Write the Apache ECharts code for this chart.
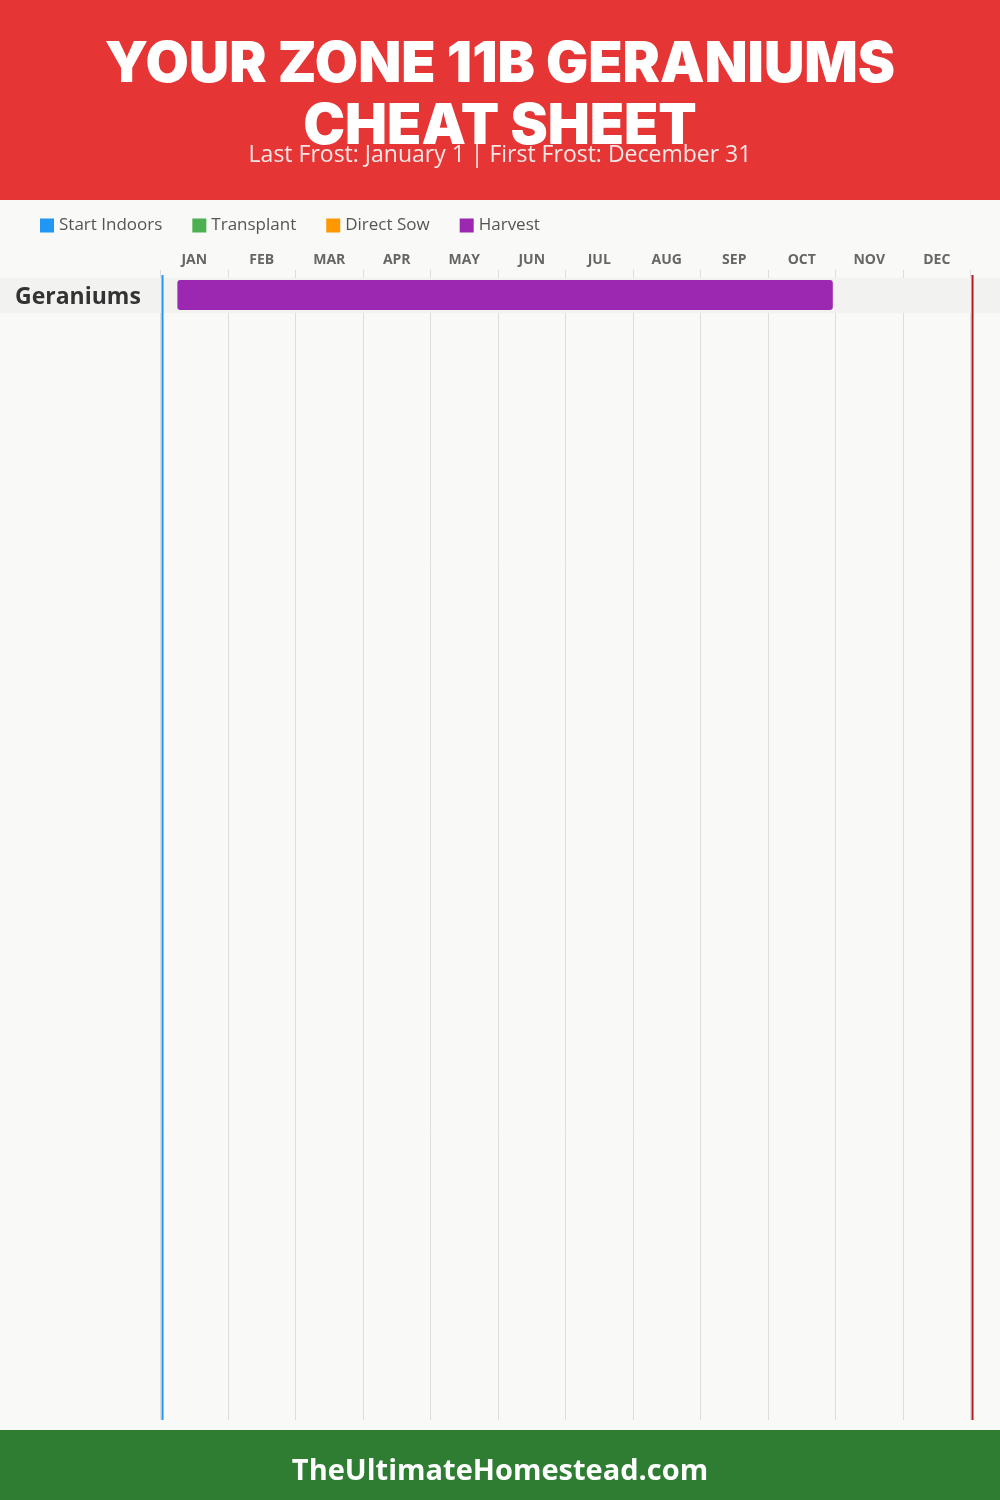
<!DOCTYPE html>
<html>
<head>
<meta charset="utf-8">
<script src="https://cdn.jsdelivr.net/npm/echarts@6/dist/echarts.min.js"></script>
<style>
  html, body { margin: 0; padding: 0; background: #f9f9f7; }
  #main { width: 1000px; height: 1500px; }
</style>
</head>
<body>
<div id="main"></div>
<script>
// ---- data ----
var months = ['JAN','FEB','MAR','APR','MAY','JUN','JUL','AUG','SEP','OCT','NOV','DEC'];
var phases = ['Start Indoors','Transplant','Direct Sow','Harvest'];
var phaseColors = ['#2196f3','#4caf50','#ff9800','#9c27b0'];
var crops = ['Geraniums'];
// month positions (0 = Jan 1, 12 = end of Dec)
var harvestStart = [0.25];
var harvestEnd = [9.96];
var lastFrost = 0.03;   // January 1
var firstFrost = 12.03; // December 31

var chart = echarts.init(document.getElementById('main'));

var GRID_TOP = 278, GRID_BOTTOM = 80, ROW_H = 35;
var rowsFit = (1500 - GRID_TOP - GRID_BOTTOM) / ROW_H;

var harvestData = [];
for (var i = 0; i < crops.length; i++) {
  harvestData.push([i, harvestStart[i], harvestEnd[i]]);
}

function renderRow(params, api) {
  var row = api.value(0);
  var top = api.coord([0, row])[1];
  var bottom = api.coord([0, row + 1])[1];
  var x0 = api.coord([api.value(1), row])[0];
  var x1 = api.coord([api.value(2), row])[0];
  var h = bottom - top;
  return {
    type: 'group',
    children: [
      { type: 'rect', shape: { x: 0, y: top, width: api.getWidth(), height: h },
        style: { fill: '#f2f2f0' } },
      { type: 'rect', shape: { x: x0, y: top + 2, width: x1 - x0, height: h - 5, r: 3 },
        style: { fill: phaseColors[3] } },
      { type: 'text', style: { text: crops[row], x: 15, y: top + h / 2 + 2,
        verticalAlign: 'middle', align: 'left', fill: '#333',
        font: 'bold 23px "Open Sans", sans-serif' } }
    ]
  };
}

function renderFrost(params, api) {
  var x = api.coord([api.value(0), 0])[0];
  var cs = params.coordSys;
  return {
    type: 'line',
    shape: { x1: x, y1: cs.y - 3, x2: x, y2: cs.y + cs.height },
    style: { stroke: api.value(1) === 0 ? '#2196f3' : '#b71c1c', lineWidth: 2 }
  };
}

var option = {
  backgroundColor: '#f9f9f7',
  animation: false,
  graphic: [
    { type: 'rect', shape: { x: 0, y: 0, width: 1000, height: 200 }, style: { fill: '#e53535' } },
    { type: 'text', x: 500, y: 65, style: { text: 'YOUR ZONE 11B GERANIUMS', align: 'center', verticalAlign: 'middle',
      fill: '#fff', font: '900 56px Inter, sans-serif' } },
    { type: 'text', x: 500, y: 127, style: { text: 'CHEAT SHEET', align: 'center', verticalAlign: 'middle',
      fill: '#fff', font: '900 56px Inter, sans-serif' } },
    { type: 'text', x: 500, y: 155, style: { text: 'Last Frost: January 1 | First Frost: December 31', align: 'center',
      verticalAlign: 'middle', fill: '#f6e6e6', font: '23px "Open Sans", sans-serif' } },
    { type: 'rect', shape: { x: 0, y: 1430, width: 1000, height: 70 }, style: { fill: '#2e7d32' } },
    { type: 'text', x: 500, y: 1472, style: { text: 'TheUltimateHomestead.com', align: 'center', verticalAlign: 'middle',
      fill: '#fff', font: 'bold 29px "Open Sans", sans-serif' } }
  ],
  legend: {
    data: phases,
    left: 35,
    top: 212,
    icon: 'rect',
    itemWidth: 14,
    itemHeight: 14,
    itemGap: 30,
    textStyle: { color: '#555', fontSize: 17, fontFamily: '"Open Sans", sans-serif' }
  },
  grid: { left: 160.5, right: 29.5, top: GRID_TOP, bottom: GRID_BOTTOM },
  xAxis: [
    { type: 'value', min: 0, max: 12, interval: 1, show: false },
    { type: 'category', data: months, position: 'top', boundaryGap: true,
      axisLine: { show: false },
      axisTick: { show: true, length: 8, lineStyle: { color: '#dddddd' } },
      axisLabel: { color: '#666', fontWeight: 'bold', fontSize: 14, margin: 11,
        fontFamily: '"Open Sans", sans-serif' },
      splitLine: { show: true, lineStyle: { color: '#dddddd', width: 1 } } }
  ],
  yAxis: { type: 'value', min: 0, max: rowsFit, inverse: true, show: false },
  series: [
    { name: 'Start Indoors', type: 'custom', itemStyle: { color: phaseColors[0] }, data: [], renderItem: renderRow },
    { name: 'Transplant', type: 'custom', itemStyle: { color: phaseColors[1] }, data: [], renderItem: renderRow },
    { name: 'Direct Sow', type: 'custom', itemStyle: { color: phaseColors[2] }, data: [], renderItem: renderRow },
    { name: 'Harvest', type: 'custom', itemStyle: { color: phaseColors[3] }, data: harvestData,
      renderItem: renderRow, clip: false, xAxisIndex: 0 },
    { type: 'custom', data: [[lastFrost, 0], [firstFrost, 1]], renderItem: renderFrost,
      clip: false, z: 5, silent: true }
  ]
};

chart.setOption(option);
</script>
</body>
</html>
